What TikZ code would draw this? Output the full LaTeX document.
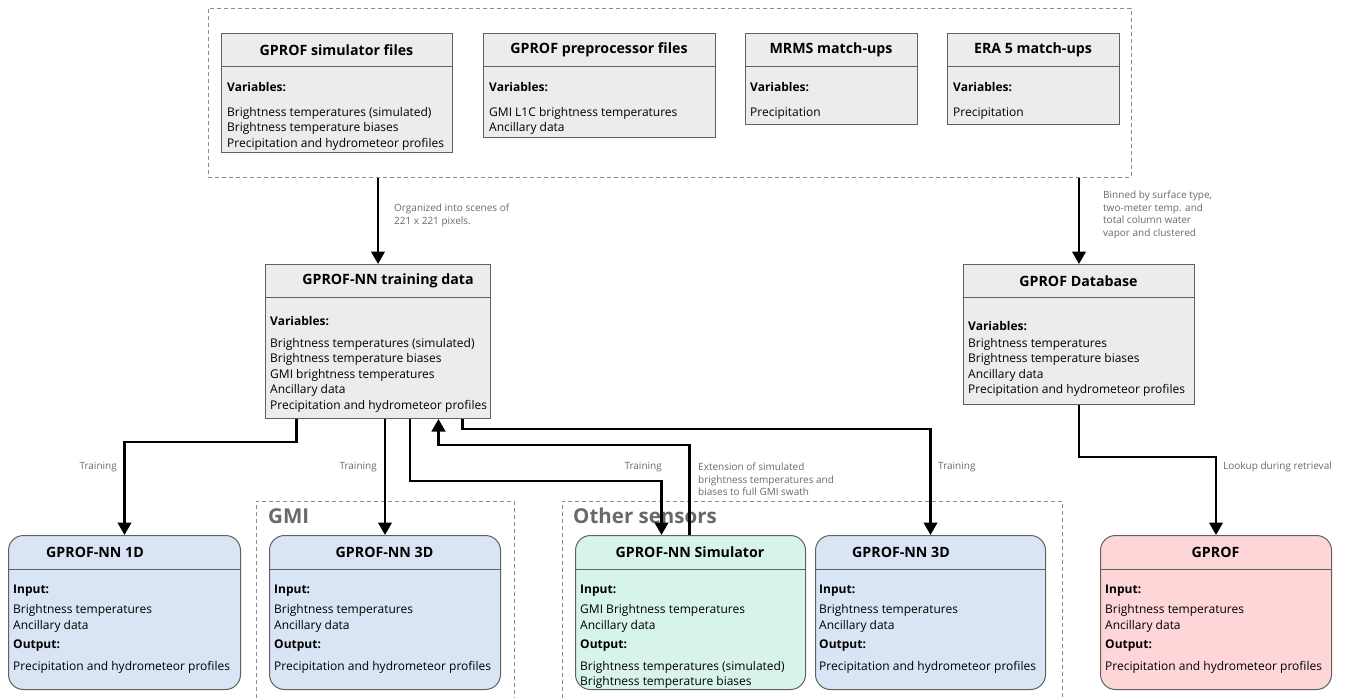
\documentclass[tikz,border=0pt]{standalone}
\usepackage{fontspec}
\setmainfont{Open Sans}
\usetikzlibrary{arrows.meta}

\definecolor{boxgray}{RGB}{236,236,236}
\definecolor{edgegray}{RGB}{96,96,96}
\definecolor{nnblue}{RGB}{217,228,245}
\definecolor{simmint}{RGB}{214,243,236}
\definecolor{gprofpink}{RGB}{255,214,216}
\definecolor{lblgray}{RGB}{105,105,105}
\definecolor{grpgray}{RGB}{140,140,140}

\tikzset{
  databox/.style = {draw=edgegray, fill=boxgray, line width=1pt, anchor=north west, inner sep=0pt},% data set
  algbox/.style = {databox, rounded corners=15pt},% retrieval algorithm
  box_title/.style = {font=\fontsize{14.2}{16}\selectfont\bfseries, inner sep=0pt},
  box_body/.style = {font=\fontsize{12}{15.5}\selectfont, align=left, anchor=north west, inner sep=0pt},
  divider/.style = {draw=edgegray, line width=1pt},
  flow/.style = {draw, line width=2.7pt, -{Triangle[length=12.5pt,width=13.5pt]}},
  flow_lbl/.style = {font=\fontsize{10}{12.7}\selectfont, text=lblgray, align=left, inner sep=0pt},
  group/.style = {draw=grpgray, dash pattern=on 4pt off 3pt, line width=0.8pt},
  group_lbl/.style = {font=\fontsize{20.5}{24}\selectfont\bfseries, text=lblgray, inner sep=0pt, anchor=west}
}

\begin{document}
\begin{tikzpicture}[x=1pt, y=-1pt]
  \useasboundingbox (0,0) rectangle (1346,698);

  % input data
  \node [group, minimum width=923, minimum height=169, anchor=north west, inner sep=0pt] (srcs) at (208,8) {};
  \node [databox, minimum width=231, minimum height=119] (simf) at (221,33) {};
  \draw [divider] ([yshift=-34]simf.north west) -- ([yshift=-34]simf.north east);
  \node [box_title] (simf_t) at (336.5,50) {GPROF simulator files};
  \node [box_body] (simf_b) at (227,82) {\textbf{Variables:}\\[9.5pt]Brightness temperatures (simulated)\\Brightness temperature biases\\Precipitation and hydrometeor profiles};

  \node [databox, minimum width=232, minimum height=104] (prep) at (483,33) {};
  \draw [divider] ([yshift=-34]prep.north west) -- ([yshift=-34]prep.north east);
  \node [box_title] (prep_t) at (599,50) {GPROF preprocessor files};
  \node [box_body] (prep_b) at (489,82) {\textbf{Variables:}\\[9.5pt]GMI L1C brightness temperatures\\Ancillary data};

  \node [databox, minimum width=172, minimum height=91] (mrms) at (745,33) {};
  \draw [divider] ([yshift=-34]mrms.north west) -- ([yshift=-34]mrms.north east);
  \node [box_title] (mrms_t) at (831,50) {MRMS match-ups};
  \node [box_body] (mrms_b) at (750,82) {\textbf{Variables:}\\[9.5pt]Precipitation};

  \node [databox, minimum width=172, minimum height=91] (era) at (947,33) {};
  \draw [divider] ([yshift=-34]era.north west) -- ([yshift=-34]era.north east);
  \node [box_title] (era_t) at (1033,50) {ERA 5 match-ups};
  \node [box_body] (era_b) at (953,82) {\textbf{Variables:}\\[9.5pt]Precipitation};

  % derived data
  \node [databox, minimum width=225, minimum height=154] (train) at (265,264) {};
  \draw [divider] ([yshift=-33]train.north west) -- ([yshift=-33]train.north east);
  \node [box_title] (train_t) at (388,281) {GPROF-NN training data};
  \node [box_body] (train_b) at (270,316) {\textbf{Variables:}\\[6.5pt]Brightness temperatures (simulated)\\Brightness temperature biases\\GMI brightness temperatures\\Ancillary data\\Precipitation and hydrometeor profiles};

  \node [databox, minimum width=231, minimum height=140] (db) at (963,264) {};
  \draw [divider] ([yshift=-33]db.north west) -- ([yshift=-33]db.north east);
  \node [box_title] (db_t) at (1078.5,281) {GPROF Database};
  \node [box_body] (db_b) at (968,321) {\textbf{Variables:}\\[1.5pt]Brightness temperatures\\Brightness temperature biases\\Ancillary data\\Precipitation and hydrometeor profiles};

  % sensor groups
  \draw [group] (256,698) |- (514,501) -- (514,698);
  \node [group_lbl] (gmi_lbl) at (268,516) {GMI};
  \draw [group] (562,698) |- (1062,501) -- (1062,698);
  \node [group_lbl] (oth_lbl) at (573,516) {Other sensors};

  % retrievals
  \node [algbox, fill=nnblue, minimum width=232, minimum height=154] (nn1d) at (8,535) {};
  \draw [divider] ([yshift=-34]nn1d.north west) -- ([yshift=-34]nn1d.north east);
  \node [box_title] (nn1d_t) at (95,552) {GPROF-NN 1D};
  \node [box_body] (nn1d_b) at (13,585) {\textbf{Input:}\\[4.5pt]Brightness temperatures\\Ancillary data\\[3.5pt]\textbf{Output:}\\[6.5pt]Precipitation and hydrometeor profiles};

  \node [algbox, fill=nnblue, minimum width=231, minimum height=154] (gmi3d) at (269,535) {};
  \draw [divider] ([yshift=-34]gmi3d.north west) -- ([yshift=-34]gmi3d.north east);
  \node [box_title] (gmi3d_t) at (384.5,552) {GPROF-NN 3D};
  \node [box_body] (gmi3d_b) at (274,585) {\textbf{Input:}\\[4.5pt]Brightness temperatures\\Ancillary data\\[3.5pt]\textbf{Output:}\\[6.5pt]Precipitation and hydrometeor profiles};

  \node [algbox, fill=simmint, minimum width=230, minimum height=154] (sim) at (575,535) {};
  \draw [divider] ([yshift=-34]sim.north west) -- ([yshift=-34]sim.north east);
  \node [box_title] (sim_t) at (690,552) {GPROF-NN Simulator};
  \node [box_body] (sim_b) at (580,585) {\textbf{Input:}\\[4.5pt]GMI Brightness temperatures\\Ancillary data\\[3.5pt]\textbf{Output:}\\[6.5pt]Brightness temperatures (simulated)\\Brightness temperature biases};

  \node [algbox, fill=nnblue, minimum width=230, minimum height=154] (oth3d) at (815,535) {};
  \draw [divider] ([yshift=-34]oth3d.north west) -- ([yshift=-34]oth3d.north east);
  \node [box_title] (oth3d_t) at (901,552) {GPROF-NN 3D};
  \node [box_body] (oth3d_b) at (819,585) {\textbf{Input:}\\[4.5pt]Brightness temperatures\\Ancillary data\\[3.5pt]\textbf{Output:}\\[6.5pt]Precipitation and hydrometeor profiles};

  \node [algbox, fill=gprofpink, minimum width=231, minimum height=154] (gprof) at (1100,535) {};
  \draw [divider] ([yshift=-34]gprof.north west) -- ([yshift=-34]gprof.north east);
  \node [box_title] (gprof_t) at (1215.5,552) {GPROF};
  \node [box_body] (gprof_b) at (1105,585) {\textbf{Input:}\\[4.5pt]Brightness temperatures\\Ancillary data\\[3.5pt]\textbf{Output:}\\[6.5pt]Precipitation and hydrometeor profiles};

  % connector labels
  \node [flow_lbl, anchor=west] (org_lbl) at (394,215.5) {Organized into scenes of\\221 x 221 pixels.};
  \node [flow_lbl, anchor=west] (bin_lbl) at (1103,215) {Binned by surface type,\\two-meter temp. and\\total column water\\vapor and clustered};
  \node [flow_lbl, anchor=east] (tr1_lbl) at (117,467) {Training};
  \node [flow_lbl, anchor=east] (tr2_lbl) at (377,467) {Training};
  \node [flow_lbl, anchor=east] (tr3_lbl) at (662,467) {Training};
  \node [flow_lbl, anchor=west] (ext_lbl) at (698,479.5) {Extension of simulated\\brightness temperatures and\\biases to full GMI swath};
  \node [flow_lbl, anchor=west] (tr4_lbl) at (938,467) {Training};
  \node [flow_lbl, anchor=west] (look_lbl) at (1223,467) {Lookup during retrieval};

  % connectors
  \draw [flow] (train.north |- srcs.south) -- (train.north);
  \draw [flow] (db.north |- srcs.south) -- (db.north);
  \draw [flow] ([xshift=-81.5]train.south) -- ++(0,23) -| (nn1d.north);
  \draw [flow] (gmi3d.north |- train.south) -- (gmi3d.north);
  \draw [flow] ([xshift=32]train.south) -- ++(0,62) -| ([xshift=-29]sim.north);
  \draw [flow] ([xshift=-1]sim.north) -- ++(0,-90) -| ([xshift=60.5]train.south);
  \draw [flow] ([xshift=84.5]train.south) -- ++(0,10) -| (oth3d.north);
  \draw [flow] (db.south) -- ++(0,52) -| (gprof.north);
\end{tikzpicture}
\end{document}
